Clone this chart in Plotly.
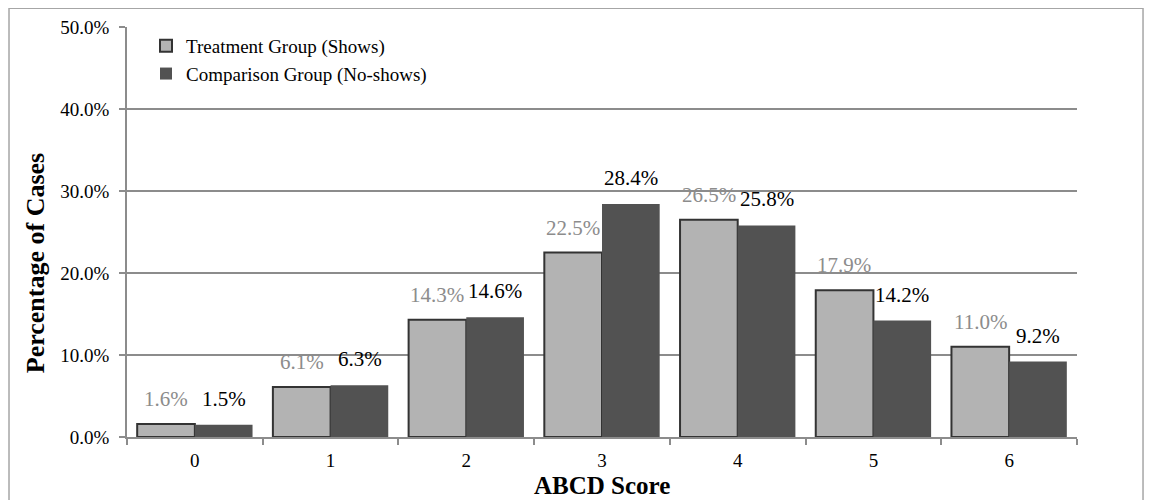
import plotly.graph_objects as go

categories = ["0", "1", "2", "3", "4", "5", "6"]
treatment = [1.6, 6.1, 14.3, 22.5, 26.5, 17.9, 11.0]
comparison = [1.5, 6.3, 14.6, 28.4, 25.8, 14.2, 9.2]
y_ticks = [0, 10, 20, 30, 40, 50]

FONT = "Liberation Serif"

fig = go.Figure()
fig.add_trace(go.Bar(x=categories, y=treatment, name="Treatment Group (Shows)",
                     marker=dict(color="#b3b3b3", line=dict(color="#333333", width=2))))
fig.add_trace(go.Bar(x=categories, y=comparison, name="Comparison Group (No-shows)",
                     marker=dict(color="#525252", line=dict(color="#525252", width=0))))

for c, t, v in zip(categories, treatment, comparison):
    fig.add_annotation(x=c, y=t, text=f"{t:.1f}%", showarrow=False, xref="x", yref="y",
                       xshift=-29, yshift=25, yanchor="middle",
                       font=dict(family=FONT, size=21, color="#8c8c8c"))
    fig.add_annotation(x=c, y=v, text=f"{v:.1f}%", showarrow=False, xref="x", yref="y",
                       xshift=29, yshift=26, yanchor="middle",
                       font=dict(family=FONT, size=21, color="#000000"))

# axis titles
fig.add_annotation(text="<b>Percentage of Cases</b>", xref="paper", yref="paper",
                   x=-0.0968, y=0.424, textangle=-90, showarrow=False,
                   xanchor="center", yanchor="middle",
                   font=dict(family=FONT, size=26, color="#000000"))
fig.add_annotation(text="<b>ABCD Score</b>", xref="paper", yref="paper",
                   x=0.5, y=-0.154, showarrow=False, xanchor="center", yanchor="bottom",
                   borderpad=0,
                   font=dict(family=FONT, size=25, color="#000000"))

fig.add_shape(type="rect", xref="paper", yref="paper", x0=-0.1242, x1=1.0695, y0=-0.3, y1=1.046,
              line=dict(color="#a6a6a6", width=1.5), layer="below")

fig.update_layout(
    width=1145, height=492,
    margin=dict(l=119, r=76, t=19, b=63, autoexpand=False),
    paper_bgcolor="white", plot_bgcolor="white",
    barmode="group", bargap=0.15, bargroupgap=0,
    font=dict(family=FONT, size=19, color="#000000"),
    showlegend=True,
    legend=dict(x=0.02, y=1.0, xanchor="left", yanchor="top",
                font=dict(family=FONT, size=19), bgcolor="rgba(0,0,0,0)",
                itemwidth=30, tracegroupgap=0),
    xaxis=dict(type="category", showline=True, linecolor="#8c8c8c", linewidth=1.5,
               ticks="outside", tickson="boundaries", ticklen=6, tickcolor="#8c8c8c",
               tickwidth=1.5, tickfont=dict(size=19), automargin=False,
               ticklabelstandoff=5),
    yaxis=dict(range=[0, 50], tickvals=y_ticks, ticktext=[f"{v:.1f}%" for v in y_ticks],
               showline=True, linecolor="#8c8c8c", linewidth=1.5,
               ticks="outside", ticklen=6, tickcolor="#8c8c8c", tickwidth=1.5,
               showgrid=True, gridcolor="#8c8c8c", gridwidth=1.5, zeroline=False,
               tickfont=dict(size=19), automargin=False, ticklabelstandoff=6),
)

fig.write_html("out.html")
